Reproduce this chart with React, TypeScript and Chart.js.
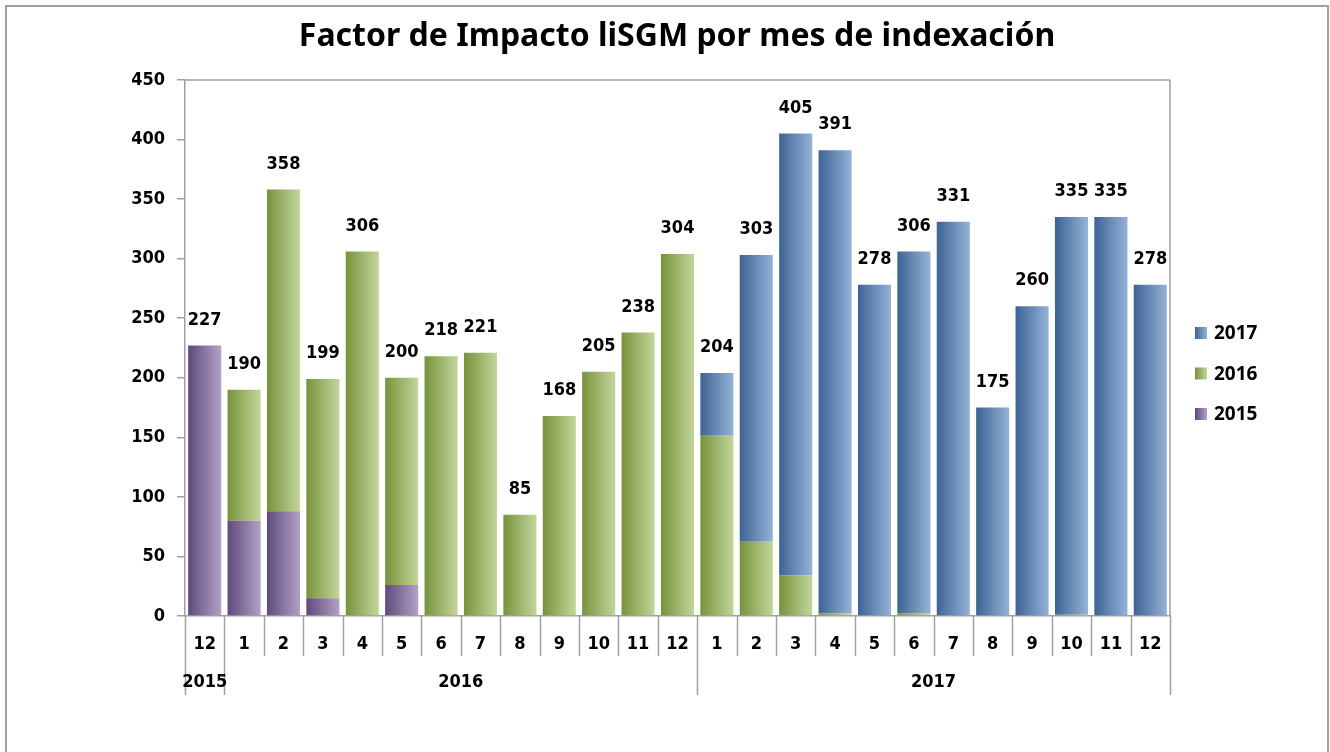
import React, { useEffect, useRef } from "react";
import { Chart, registerables } from "chart.js";

Chart.register(...registerables);

const title = "Factor de Impacto liSGM por mes de indexación";
const months = ["12", "1", "2", "3", "4", "5", "6", "7", "8", "9", "10", "11", "12", "1", "2", "3", "4", "5", "6", "7", "8", "9", "10", "11", "12"];
const years = ["2015", "2016", "2017"];
const yearSpans = [1, 12, 12];
const s2015 = [227, 80, 88, 15, 0, 26, 0, 0, 0, 0, 0, 0, 0, 0, 0, 0, 0, 0, 0, 0, 0, 0, 0, 0, 0];
const s2016 = [0, 110, 270, 184, 306, 174, 218, 221, 85, 168, 205, 238, 304, 152, 63, 34, 2, 0, 2, 0, 0, 0, 1, 0, 0];
const s2017 = [0, 0, 0, 0, 0, 0, 0, 0, 0, 0, 0, 0, 0, 52, 240, 371, 389, 278, 304, 331, 175, 260, 334, 335, 278];
const totals = [227, 190, 358, 199, 306, 200, 218, 221, 85, 168, 205, 238, 304, 204, 303, 405, 391, 278, 306, 331, 175, 260, 335, 335, 278];
const legendOrder = ["2017", "2016", "2015"];

const NARROW = '"Liberation Sans Narrow", "DejaVu Sans Condensed", "Arial Narrow", sans-serif';
const GRAY = "#a0a0a0";

const palette: Record<string, [string, string]> = {
  "2015": ["#5f497a", "#b3a2c7"],
  "2016": ["#77933c", "#c3d69b"],
  "2017": ["#3d6394", "#95b3d7"],
};

function gradientFor(key: string) {
  return (c: any) => {
    const chart = c.chart;
    const [dark, light] = palette[key];
    if (!chart.chartArea || c.type !== "data") return dark;
    const xs = chart.scales.x;
    const cw = xs.width / months.length;
    const bw = cw * 0.84;
    const cx = xs.getPixelForValue(c.dataIndex);
    const g = chart.ctx.createLinearGradient(cx - bw / 2, 0, cx + bw / 2, 0);
    g.addColorStop(0, dark);
    g.addColorStop(1, light);
    return g;
  };
}

const overlay = {
  id: "overlay",
  afterDraw(chart: any) {
    const { ctx, chartArea, scales } = chart;
    const { left, right, top, bottom } = chartArea;
    const xs = scales.x;
    const ys = scales.y;
    const n = months.length;
    const cw = (right - left) / n;
    ctx.save();
    // outer frame
    ctx.strokeStyle = GRAY;
    ctx.lineWidth = 2;
    ctx.beginPath();
    ctx.moveTo(6, 800);
    ctx.lineTo(6, 6);
    ctx.lineTo(1328, 6);
    ctx.lineTo(1328, 800);
    ctx.stroke();

    // title
    ctx.fillStyle = "#000";
    ctx.font = 'bold 32px "Noto Sans", sans-serif';
    ctx.textAlign = "center";
    ctx.textBaseline = "middle";
    ctx.fillText(title, 677, 37);

    // plot border
    ctx.strokeStyle = GRAY;
    ctx.lineWidth = 1.5;
    ctx.beginPath();
    ctx.moveTo(left, top);
    ctx.lineTo(right, top);
    ctx.moveTo(right, top);
    ctx.lineTo(right, bottom);
    ctx.stroke();

    // category separators
    const yearBounds = new Set<number>();
    let acc = 0;
    yearBounds.add(0);
    yearSpans.forEach((s) => {
      acc += s;
      yearBounds.add(acc);
    });
    for (let k = 0; k <= n; k++) {
      const x = Math.round(left + k * cw) + 0.5;
      ctx.beginPath();
      ctx.moveTo(x, bottom);
      ctx.lineTo(x, yearBounds.has(k) ? 695 : 656);
      ctx.stroke();
    }

    // year labels
    ctx.fillStyle = "#000";
    ctx.font = `bold 18px ${NARROW}`;
    ctx.textAlign = "center";
    ctx.textBaseline = "middle";
    acc = 0;
    years.forEach((yr, i) => {
      const cx = left + (acc + yearSpans[i] / 2) * cw;
      ctx.fillText(yr, cx, 682);
      acc += yearSpans[i];
    });

    // data labels
    ctx.textBaseline = "alphabetic";
    totals.forEach((t, i) => {
      const x = xs.getPixelForValue(i);
      const y = ys.getPixelForValue(t);
      ctx.fillText(String(t), x, y - 21);
    });

    // legend
    ctx.font = 'bold 19px "Noto Sans", sans-serif';
    ctx.textAlign = "left";
    ctx.textBaseline = "middle";
    legendOrder.forEach((k, i) => {
      const cy = 333 + i * 40.5;
      const [dark, light] = palette[k];
      const g = ctx.createLinearGradient(1195, 0, 1207, 0);
      g.addColorStop(0, dark);
      g.addColorStop(1, light);
      ctx.fillStyle = g;
      ctx.fillRect(1195, cy - 6, 12, 12);
      ctx.fillStyle = "#000";
      ctx.fillText(k, 1214, cy + 1);
    });
    ctx.restore();
  },
};

export default function App() {
  const ref = useRef<HTMLCanvasElement>(null);
  useEffect(() => {
    if (!ref.current) return;
    const chart = new Chart(ref.current, {
      type: "bar",
      data: {
        labels: months,
        datasets: [
          { label: "2015", data: s2015, backgroundColor: gradientFor("2015") as any, borderWidth: 0 },
          { label: "2016", data: s2016, backgroundColor: gradientFor("2016") as any, borderWidth: 0 },
          { label: "2017", data: s2017, backgroundColor: gradientFor("2017") as any, borderWidth: 0 },
        ],
      },
      options: {
        animation: false,
        responsive: false,
        devicePixelRatio: 1,
        layout: { padding: { top: 80, right: 160, left: 0, bottom: 0 } },
        datasets: { bar: { categoryPercentage: 0.84, barPercentage: 1 } },
        plugins: { legend: { display: false }, title: { display: false }, tooltip: { enabled: false } },
        scales: {
          x: {
            stacked: true,
            grid: { display: false },
            border: { display: true, color: GRAY, width: 1.5 },
            ticks: { color: "#000", font: { family: NARROW, size: 18, weight: "bold" }, padding: 10, maxRotation: 0, autoSkip: false },
            afterFit: (scale: any) => { scale.height = 136; },
          },
          y: {
            stacked: true,
            min: 0,
            max: 450,
            grid: { drawOnChartArea: false, color: GRAY, tickLength: 8, lineWidth: 1.5 },
            border: { display: true, color: GRAY, width: 1.5 },
            ticks: { stepSize: 50, color: "#000", font: { family: NARROW, size: 18, weight: "bold" }, padding: 12 },
            afterFit: (scale: any) => { scale.width = 185; },
          },
        },
      },
      plugins: [overlay],
    });
    return () => chart.destroy();
  }, []);
  return (
    <div style={{ position: "absolute", left: 0, top: 0, width: 1330, height: 752, background: "#fff" }}>
      <canvas ref={ref} width={1330} height={752} />
    </div>
  );
}
